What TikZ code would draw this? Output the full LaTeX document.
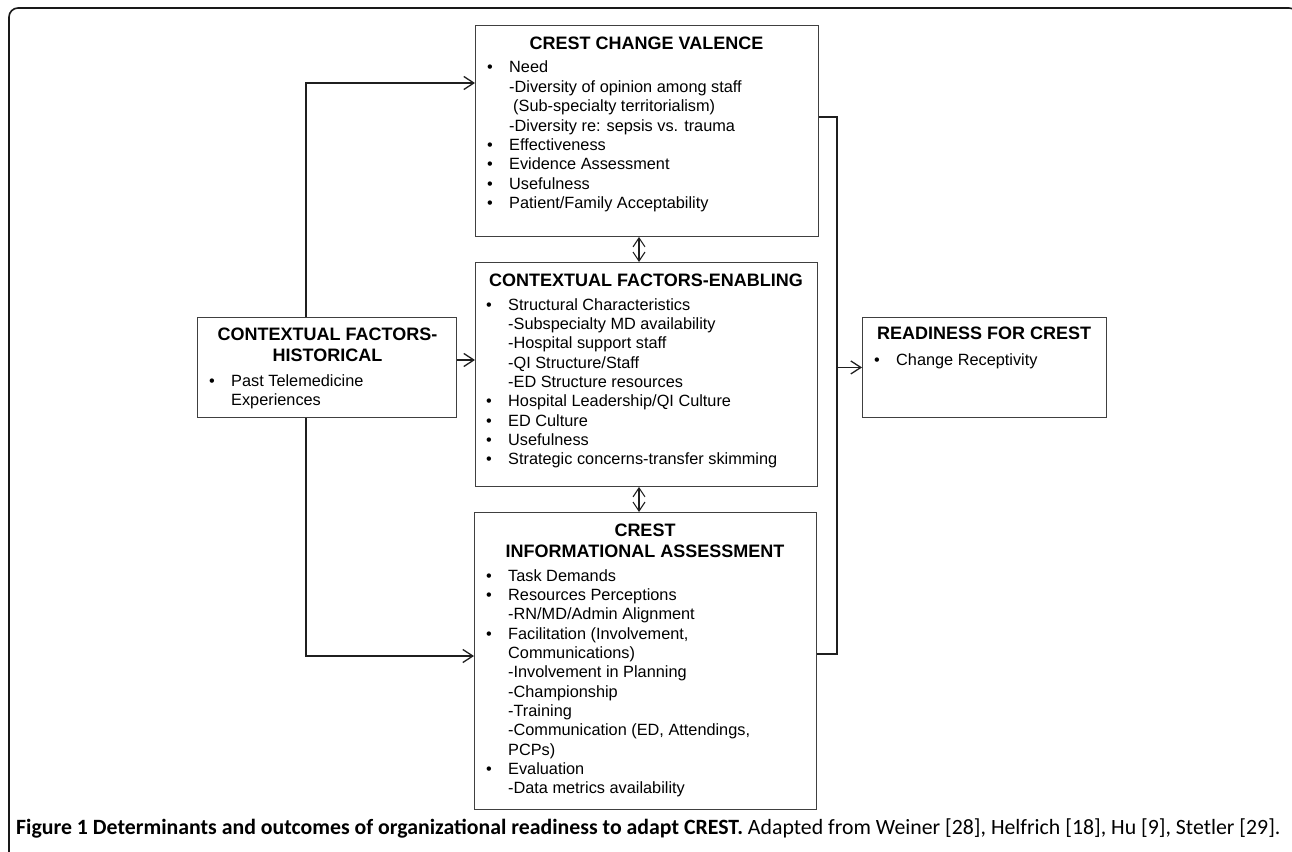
\documentclass[tikz,border=0pt]{standalone}
\usepackage{fontspec}
\setmainfont{Liberation Sans}
\newfontfamily\capfont{Carlito}
\usetikzlibrary{arrows.meta}
\newcommand{\bl}{\textbullet}
\begin{document}
\begin{tikzpicture}[x=1pt,y=-1pt,
  box/.style={draw=black!75,line width=0.9pt,fill=white,inner sep=0pt,anchor=north west},
  ttl/.style={anchor=base,inner sep=0pt,font=\bfseries\fontsize{18}{21}\selectfont},
  lst/.style={anchor=base west,inner sep=0pt,font=\fontsize{16.3}{19.35}\selectfont},
  conn/.style={draw=black!88,line width=1.3pt},
  arr/.style={conn,-{Straight Barb[length=10pt,width=13pt]}},
  dbl/.style={draw=black!88,line width=1.1pt,{Straight Barb[length=9pt,width=12pt]}-{Straight Barb[length=9pt,width=12pt]}}]
\useasboundingbox (0,0) rectangle (1292,851);
\begin{scope}
\clip (0,0) rectangle (1292,851);
\draw[black!90,line width=1.6pt,rounded corners=9pt] (9,880) -- (9,8) -- (1298,8) -- (1298,880);
\end{scope}

% boxes
\node[box,minimum width=343pt,minimum height=211pt] (val) at (475,25) {};
\node[box,minimum width=342pt,minimum height=224pt] (enab) at (475,262) {};
\node[box,minimum width=342pt,minimum height=297pt] (info) at (474,512) {};
\node[box,minimum width=259pt,minimum height=100pt] (hist) at (197,317) {};
\node[box,minimum width=244pt,minimum height=100pt] (ready) at (862,317) {};

% titles
\node[ttl] (valT) at (646.5,49) {CREST CHANGE VALENCE};
\node[ttl] (enabT) at (646,286) {CONTEXTUAL FACTORS-ENABLING};
\node[ttl] (infoT1) at (645,536) {CREST};
\node[ttl] (infoT2) at (645,557) {INFORMATIONAL ASSESSMENT};
\node[ttl] (histT1) at (327.5,340) {CONTEXTUAL FACTORS-};
\node[ttl] (histT2) at (327.5,361) {HISTORICAL};
\node[ttl,anchor=base west] (readyT) at (877,339) {READINESS FOR CREST};

% lists
\node[lst] (valL) at (487,73) {\begin{tabular}[t]{@{}p{22pt}@{}l@{}}
\bl & Need\\
 & -Diversity of opinion among staff\\
 & \hspace{4pt}(Sub-specialty territorialism)\\
 & -Diversity re: sepsis vs. trauma\\
\bl & Effectiveness\\
\bl & Evidence Assessment\\
\bl & Usefulness\\
\bl & Patient/Family Acceptability
\end{tabular}};
\node[lst] (enabL) at (486,310) {\begin{tabular}[t]{@{}p{22pt}@{}l@{}}
\bl & Structural Characteristics\\
 & -Subspecialty MD availability\\
 & -Hospital support staff\\
 & -QI Structure/Staff\\
 & -ED Structure resources\\
\bl & Hospital Leadership/QI Culture\\
\bl & ED Culture\\
\bl & Usefulness\\
\bl & Strategic concerns-transfer skimming
\end{tabular}};
\node[lst] (infoL) at (486,581) {\begin{tabular}[t]{@{}p{22pt}@{}l@{}}
\bl & Task Demands\\
\bl & Resources Perceptions\\
 & -RN/MD/Admin Alignment\\
\bl & Facilitation (Involvement,\\
 & Communications)\\
 & -Involvement in Planning\\
 & -Championship\\
 & -Training\\
 & -Communication (ED, Attendings,\\
 & PCPs)\\
\bl & Evaluation\\
 & -Data metrics availability
\end{tabular}};
\node[lst] (histL) at (209,386) {\begin{tabular}[t]{@{}p{22pt}@{}l@{}}
\bl & Past Telemedicine\\
 & Experiences
\end{tabular}};
\node[lst] (readyL) at (874,365) {\begin{tabular}[t]{@{}p{22pt}@{}l@{}}
\bl & Change Receptivity
\end{tabular}};

% connectors
\coordinate (L1) at (306,83);
\coordinate (L2) at (306,656);
\coordinate (M) at (306,360);
\coordinate (R1) at (837,117);
\coordinate (R2) at (837,654);
\coordinate (D) at (639,0);
\draw[arr] (hist.north -| L1) -- (L1) -- (L1 -| val.west);
\draw[arr] (hist.south -| L2) -- (L2) -- (L2 -| info.west);
\draw[arr] (M -| hist.east) -- (M -| enab.west);
\draw[conn] (R1 -| val.east) -- (R1) -- (R2) -- (R2 -| info.east);
\draw[arr] (R1 |- ready.west) -- (ready.west);
\draw[dbl] (val.south -| D) -- (enab.north -| D);
\draw[dbl] (enab.south -| D) -- (info.north -| D);

% caption
\node[anchor=base west,inner sep=0pt,font=\capfont\fontsize{21.8}{24}\selectfont] (cap) at (16,834)
 {\textbf{Figure 1 Determinants and outcomes of organizational readiness to adapt CREST.} Adapted from Weiner [28], Helfrich [18], Hu [9], Stetler [29].};
\end{tikzpicture}
\end{document}
